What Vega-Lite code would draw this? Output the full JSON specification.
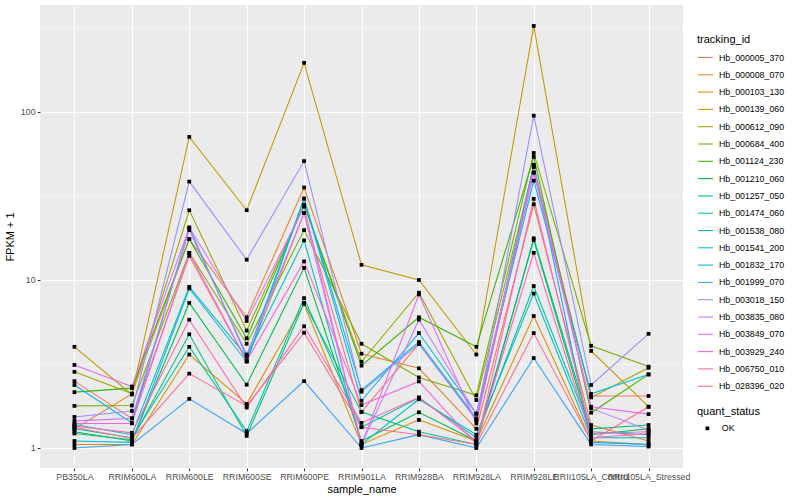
{
  "$schema": "https://vega.github.io/schema/vega-lite/v6.json",
  "autosize": "none",
  "width": 643,
  "height": 463,
  "padding": {"left": 40, "top": 5, "right": 117, "bottom": 32},
  "background": "white",
  "config": {
    "font": "Liberation Sans",
    "view": {"fill": "#EBEBEB", "stroke": null},
    "axis": {
      "domain": false,
      "labelFont": "Liberation Sans",
      "titleFont": "Liberation Sans",
      "labelFontSize": 8.8,
      "labelColor": "#4D4D4D",
      "tickColor": "#333333",
      "tickSize": 2.75,
      "labelPadding": 2.2,
      "titleFontSize": 11,
      "titleFontWeight": "normal",
      "titleColor": "black",
      "gridColor": "white",
      "gridOpacity": 1
    },
    "legend": {
      "titleFont": "Liberation Sans",
      "labelFont": "Liberation Sans",
      "titleFontSize": 11,
      "titleFontWeight": "normal",
      "titleColor": "black",
      "labelFontSize": 8.8,
      "labelColor": "black",
      "padding": 0
    }
  },
  "data": {"values": [
    {"tracking_id":"Hb_000005_370","sample_name":"PB350LA","fpkm":2.5,"quant_status":"OK"},
    {"tracking_id":"Hb_000005_370","sample_name":"RRIM600LA","fpkm":1.5,"quant_status":"OK"},
    {"tracking_id":"Hb_000005_370","sample_name":"RRIM600LE","fpkm":13.9,"quant_status":"OK"},
    {"tracking_id":"Hb_000005_370","sample_name":"RRIM600SE","fpkm":3.3,"quant_status":"OK"},
    {"tracking_id":"Hb_000005_370","sample_name":"RRIM600PE","fpkm":25,"quant_status":"OK"},
    {"tracking_id":"Hb_000005_370","sample_name":"RRIM901LA","fpkm":1.64,"quant_status":"OK"},
    {"tracking_id":"Hb_000005_370","sample_name":"RRIM928BA","fpkm":4.16,"quant_status":"OK"},
    {"tracking_id":"Hb_000005_370","sample_name":"RRIM928LA","fpkm":1.47,"quant_status":"OK"},
    {"tracking_id":"Hb_000005_370","sample_name":"RRIM928LE","fpkm":43.6,"quant_status":"OK"},
    {"tracking_id":"Hb_000005_370","sample_name":"RRII105LA_Control","fpkm":2.04,"quant_status":"OK"},
    {"tracking_id":"Hb_000005_370","sample_name":"RRII105LA_Stressed","fpkm":2.04,"quant_status":"OK"},

    {"tracking_id":"Hb_000008_070","sample_name":"PB350LA","fpkm":1.3,"quant_status":"OK"},
    {"tracking_id":"Hb_000008_070","sample_name":"RRIM600LA","fpkm":2.1,"quant_status":"OK"},
    {"tracking_id":"Hb_000008_070","sample_name":"RRIM600LE","fpkm":17.5,"quant_status":"OK"},
    {"tracking_id":"Hb_000008_070","sample_name":"RRIM600SE","fpkm":6.0,"quant_status":"OK"},
    {"tracking_id":"Hb_000008_070","sample_name":"RRIM600PE","fpkm":35.5,"quant_status":"OK"},
    {"tracking_id":"Hb_000008_070","sample_name":"RRIM901LA","fpkm":3.64,"quant_status":"OK"},
    {"tracking_id":"Hb_000008_070","sample_name":"RRIM928BA","fpkm":2.98,"quant_status":"OK"},
    {"tracking_id":"Hb_000008_070","sample_name":"RRIM928LA","fpkm":1.3,"quant_status":"OK"},
    {"tracking_id":"Hb_000008_070","sample_name":"RRIM928LE","fpkm":28.2,"quant_status":"OK"},
    {"tracking_id":"Hb_000008_070","sample_name":"RRII105LA_Control","fpkm":1.37,"quant_status":"OK"},
    {"tracking_id":"Hb_000008_070","sample_name":"RRII105LA_Stressed","fpkm":1.1,"quant_status":"OK"},

    {"tracking_id":"Hb_000103_130","sample_name":"PB350LA","fpkm":1.05,"quant_status":"OK"},
    {"tracking_id":"Hb_000103_130","sample_name":"RRIM600LA","fpkm":1.05,"quant_status":"OK"},
    {"tracking_id":"Hb_000103_130","sample_name":"RRIM600LE","fpkm":3.6,"quant_status":"OK"},
    {"tracking_id":"Hb_000103_130","sample_name":"RRIM600SE","fpkm":1.83,"quant_status":"OK"},
    {"tracking_id":"Hb_000103_130","sample_name":"RRIM600PE","fpkm":7.2,"quant_status":"OK"},
    {"tracking_id":"Hb_000103_130","sample_name":"RRIM901LA","fpkm":1.05,"quant_status":"OK"},
    {"tracking_id":"Hb_000103_130","sample_name":"RRIM928BA","fpkm":1.47,"quant_status":"OK"},
    {"tracking_id":"Hb_000103_130","sample_name":"RRIM928LA","fpkm":1.1,"quant_status":"OK"},
    {"tracking_id":"Hb_000103_130","sample_name":"RRIM928LE","fpkm":6.1,"quant_status":"OK"},
    {"tracking_id":"Hb_000103_130","sample_name":"RRII105LA_Control","fpkm":1.1,"quant_status":"OK"},
    {"tracking_id":"Hb_000103_130","sample_name":"RRII105LA_Stressed","fpkm":1.05,"quant_status":"OK"},

    {"tracking_id":"Hb_000139_060","sample_name":"PB350LA","fpkm":4.0,"quant_status":"OK"},
    {"tracking_id":"Hb_000139_060","sample_name":"RRIM600LA","fpkm":2.08,"quant_status":"OK"},
    {"tracking_id":"Hb_000139_060","sample_name":"RRIM600LE","fpkm":71,"quant_status":"OK"},
    {"tracking_id":"Hb_000139_060","sample_name":"RRIM600SE","fpkm":26,"quant_status":"OK"},
    {"tracking_id":"Hb_000139_060","sample_name":"RRIM600PE","fpkm":196,"quant_status":"OK"},
    {"tracking_id":"Hb_000139_060","sample_name":"RRIM901LA","fpkm":12.3,"quant_status":"OK"},
    {"tracking_id":"Hb_000139_060","sample_name":"RRIM928BA","fpkm":10,"quant_status":"OK"},
    {"tracking_id":"Hb_000139_060","sample_name":"RRIM928LA","fpkm":3.6,"quant_status":"OK"},
    {"tracking_id":"Hb_000139_060","sample_name":"RRIM928LE","fpkm":325,"quant_status":"OK"},
    {"tracking_id":"Hb_000139_060","sample_name":"RRII105LA_Control","fpkm":3.78,"quant_status":"OK"},
    {"tracking_id":"Hb_000139_060","sample_name":"RRII105LA_Stressed","fpkm":1.76,"quant_status":"OK"},

    {"tracking_id":"Hb_000612_090","sample_name":"PB350LA","fpkm":2.84,"quant_status":"OK"},
    {"tracking_id":"Hb_000612_090","sample_name":"RRIM600LA","fpkm":2.11,"quant_status":"OK"},
    {"tracking_id":"Hb_000612_090","sample_name":"RRIM600LE","fpkm":26,"quant_status":"OK"},
    {"tracking_id":"Hb_000612_090","sample_name":"RRIM600SE","fpkm":5.0,"quant_status":"OK"},
    {"tracking_id":"Hb_000612_090","sample_name":"RRIM600PE","fpkm":28,"quant_status":"OK"},
    {"tracking_id":"Hb_000612_090","sample_name":"RRIM901LA","fpkm":3.26,"quant_status":"OK"},
    {"tracking_id":"Hb_000612_090","sample_name":"RRIM928BA","fpkm":8.4,"quant_status":"OK"},
    {"tracking_id":"Hb_000612_090","sample_name":"RRIM928LA","fpkm":1.93,"quant_status":"OK"},
    {"tracking_id":"Hb_000612_090","sample_name":"RRIM928LE","fpkm":47.3,"quant_status":"OK"},
    {"tracking_id":"Hb_000612_090","sample_name":"RRII105LA_Control","fpkm":2.0,"quant_status":"OK"},
    {"tracking_id":"Hb_000612_090","sample_name":"RRII105LA_Stressed","fpkm":3.0,"quant_status":"OK"},

    {"tracking_id":"Hb_000684_400","sample_name":"PB350LA","fpkm":1.78,"quant_status":"OK"},
    {"tracking_id":"Hb_000684_400","sample_name":"RRIM600LA","fpkm":1.79,"quant_status":"OK"},
    {"tracking_id":"Hb_000684_400","sample_name":"RRIM600LE","fpkm":14.5,"quant_status":"OK"},
    {"tracking_id":"Hb_000684_400","sample_name":"RRIM600SE","fpkm":4.17,"quant_status":"OK"},
    {"tracking_id":"Hb_000684_400","sample_name":"RRIM600PE","fpkm":19.8,"quant_status":"OK"},
    {"tracking_id":"Hb_000684_400","sample_name":"RRIM901LA","fpkm":4.17,"quant_status":"OK"},
    {"tracking_id":"Hb_000684_400","sample_name":"RRIM928BA","fpkm":2.63,"quant_status":"OK"},
    {"tracking_id":"Hb_000684_400","sample_name":"RRIM928LA","fpkm":2.06,"quant_status":"OK"},
    {"tracking_id":"Hb_000684_400","sample_name":"RRIM928LE","fpkm":57,"quant_status":"OK"},
    {"tracking_id":"Hb_000684_400","sample_name":"RRII105LA_Control","fpkm":4.06,"quant_status":"OK"},
    {"tracking_id":"Hb_000684_400","sample_name":"RRII105LA_Stressed","fpkm":3.05,"quant_status":"OK"},

    {"tracking_id":"Hb_001124_230","sample_name":"PB350LA","fpkm":2.15,"quant_status":"OK"},
    {"tracking_id":"Hb_001124_230","sample_name":"RRIM600LA","fpkm":2.27,"quant_status":"OK"},
    {"tracking_id":"Hb_001124_230","sample_name":"RRIM600LE","fpkm":17.5,"quant_status":"OK"},
    {"tracking_id":"Hb_001124_230","sample_name":"RRIM600SE","fpkm":4.5,"quant_status":"OK"},
    {"tracking_id":"Hb_001124_230","sample_name":"RRIM600PE","fpkm":28,"quant_status":"OK"},
    {"tracking_id":"Hb_001124_230","sample_name":"RRIM901LA","fpkm":3.09,"quant_status":"OK"},
    {"tracking_id":"Hb_001124_230","sample_name":"RRIM928BA","fpkm":6.0,"quant_status":"OK"},
    {"tracking_id":"Hb_001124_230","sample_name":"RRIM928LA","fpkm":4.0,"quant_status":"OK"},
    {"tracking_id":"Hb_001124_230","sample_name":"RRIM928LE","fpkm":54,"quant_status":"OK"},
    {"tracking_id":"Hb_001124_230","sample_name":"RRII105LA_Control","fpkm":1.62,"quant_status":"OK"},
    {"tracking_id":"Hb_001124_230","sample_name":"RRII105LA_Stressed","fpkm":2.74,"quant_status":"OK"},

    {"tracking_id":"Hb_001210_060","sample_name":"PB350LA","fpkm":1.25,"quant_status":"OK"},
    {"tracking_id":"Hb_001210_060","sample_name":"RRIM600LA","fpkm":1.1,"quant_status":"OK"},
    {"tracking_id":"Hb_001210_060","sample_name":"RRIM600LE","fpkm":7.3,"quant_status":"OK"},
    {"tracking_id":"Hb_001210_060","sample_name":"RRIM600SE","fpkm":2.38,"quant_status":"OK"},
    {"tracking_id":"Hb_001210_060","sample_name":"RRIM600PE","fpkm":11.8,"quant_status":"OK"},
    {"tracking_id":"Hb_001210_060","sample_name":"RRIM901LA","fpkm":1.1,"quant_status":"OK"},
    {"tracking_id":"Hb_001210_060","sample_name":"RRIM928BA","fpkm":1.63,"quant_status":"OK"},
    {"tracking_id":"Hb_001210_060","sample_name":"RRIM928LA","fpkm":1.1,"quant_status":"OK"},
    {"tracking_id":"Hb_001210_060","sample_name":"RRIM928LE","fpkm":17.3,"quant_status":"OK"},
    {"tracking_id":"Hb_001210_060","sample_name":"RRII105LA_Control","fpkm":1.2,"quant_status":"OK"},
    {"tracking_id":"Hb_001210_060","sample_name":"RRII105LA_Stressed","fpkm":1.3,"quant_status":"OK"},

    {"tracking_id":"Hb_001257_050","sample_name":"PB350LA","fpkm":1.22,"quant_status":"OK"},
    {"tracking_id":"Hb_001257_050","sample_name":"RRIM600LA","fpkm":1.12,"quant_status":"OK"},
    {"tracking_id":"Hb_001257_050","sample_name":"RRIM600LE","fpkm":4.75,"quant_status":"OK"},
    {"tracking_id":"Hb_001257_050","sample_name":"RRIM600SE","fpkm":1.18,"quant_status":"OK"},
    {"tracking_id":"Hb_001257_050","sample_name":"RRIM600PE","fpkm":7.3,"quant_status":"OK"},
    {"tracking_id":"Hb_001257_050","sample_name":"RRIM901LA","fpkm":1.64,"quant_status":"OK"},
    {"tracking_id":"Hb_001257_050","sample_name":"RRIM928BA","fpkm":1.25,"quant_status":"OK"},
    {"tracking_id":"Hb_001257_050","sample_name":"RRIM928LA","fpkm":1.05,"quant_status":"OK"},
    {"tracking_id":"Hb_001257_050","sample_name":"RRIM928LE","fpkm":17.7,"quant_status":"OK"},
    {"tracking_id":"Hb_001257_050","sample_name":"RRII105LA_Control","fpkm":1.3,"quant_status":"OK"},
    {"tracking_id":"Hb_001257_050","sample_name":"RRII105LA_Stressed","fpkm":1.37,"quant_status":"OK"},

    {"tracking_id":"Hb_001474_060","sample_name":"PB350LA","fpkm":1.3,"quant_status":"OK"},
    {"tracking_id":"Hb_001474_060","sample_name":"RRIM600LA","fpkm":1.15,"quant_status":"OK"},
    {"tracking_id":"Hb_001474_060","sample_name":"RRIM600LE","fpkm":4.0,"quant_status":"OK"},
    {"tracking_id":"Hb_001474_060","sample_name":"RRIM600SE","fpkm":1.26,"quant_status":"OK"},
    {"tracking_id":"Hb_001474_060","sample_name":"RRIM600PE","fpkm":7.8,"quant_status":"OK"},
    {"tracking_id":"Hb_001474_060","sample_name":"RRIM901LA","fpkm":1.33,"quant_status":"OK"},
    {"tracking_id":"Hb_001474_060","sample_name":"RRIM928BA","fpkm":1.99,"quant_status":"OK"},
    {"tracking_id":"Hb_001474_060","sample_name":"RRIM928LA","fpkm":1.15,"quant_status":"OK"},
    {"tracking_id":"Hb_001474_060","sample_name":"RRIM928LE","fpkm":9.2,"quant_status":"OK"},
    {"tracking_id":"Hb_001474_060","sample_name":"RRII105LA_Control","fpkm":1.25,"quant_status":"OK"},
    {"tracking_id":"Hb_001474_060","sample_name":"RRII105LA_Stressed","fpkm":1.2,"quant_status":"OK"},

    {"tracking_id":"Hb_001538_080","sample_name":"PB350LA","fpkm":1.38,"quant_status":"OK"},
    {"tracking_id":"Hb_001538_080","sample_name":"RRIM600LA","fpkm":1.2,"quant_status":"OK"},
    {"tracking_id":"Hb_001538_080","sample_name":"RRIM600LE","fpkm":9.1,"quant_status":"OK"},
    {"tracking_id":"Hb_001538_080","sample_name":"RRIM600SE","fpkm":3.5,"quant_status":"OK"},
    {"tracking_id":"Hb_001538_080","sample_name":"RRIM600PE","fpkm":17.2,"quant_status":"OK"},
    {"tracking_id":"Hb_001538_080","sample_name":"RRIM901LA","fpkm":1.05,"quant_status":"OK"},
    {"tracking_id":"Hb_001538_080","sample_name":"RRIM928BA","fpkm":1.95,"quant_status":"OK"},
    {"tracking_id":"Hb_001538_080","sample_name":"RRIM928LA","fpkm":1.2,"quant_status":"OK"},
    {"tracking_id":"Hb_001538_080","sample_name":"RRIM928LE","fpkm":8.3,"quant_status":"OK"},
    {"tracking_id":"Hb_001538_080","sample_name":"RRII105LA_Control","fpkm":1.15,"quant_status":"OK"},
    {"tracking_id":"Hb_001538_080","sample_name":"RRII105LA_Stressed","fpkm":1.15,"quant_status":"OK"},

    {"tracking_id":"Hb_001541_200","sample_name":"PB350LA","fpkm":1.1,"quant_status":"OK"},
    {"tracking_id":"Hb_001541_200","sample_name":"RRIM600LA","fpkm":1.08,"quant_status":"OK"},
    {"tracking_id":"Hb_001541_200","sample_name":"RRIM600LE","fpkm":8.9,"quant_status":"OK"},
    {"tracking_id":"Hb_001541_200","sample_name":"RRIM600SE","fpkm":3.26,"quant_status":"OK"},
    {"tracking_id":"Hb_001541_200","sample_name":"RRIM600PE","fpkm":30.5,"quant_status":"OK"},
    {"tracking_id":"Hb_001541_200","sample_name":"RRIM901LA","fpkm":1.91,"quant_status":"OK"},
    {"tracking_id":"Hb_001541_200","sample_name":"RRIM928BA","fpkm":4.83,"quant_status":"OK"},
    {"tracking_id":"Hb_001541_200","sample_name":"RRIM928LA","fpkm":1.6,"quant_status":"OK"},
    {"tracking_id":"Hb_001541_200","sample_name":"RRIM928LE","fpkm":39,"quant_status":"OK"},
    {"tracking_id":"Hb_001541_200","sample_name":"RRII105LA_Control","fpkm":2.1,"quant_status":"OK"},
    {"tracking_id":"Hb_001541_200","sample_name":"RRII105LA_Stressed","fpkm":2.74,"quant_status":"OK"},

    {"tracking_id":"Hb_001832_170","sample_name":"PB350LA","fpkm":2.37,"quant_status":"OK"},
    {"tracking_id":"Hb_001832_170","sample_name":"RRIM600LA","fpkm":1.41,"quant_status":"OK"},
    {"tracking_id":"Hb_001832_170","sample_name":"RRIM600LE","fpkm":20.5,"quant_status":"OK"},
    {"tracking_id":"Hb_001832_170","sample_name":"RRIM600SE","fpkm":3.5,"quant_status":"OK"},
    {"tracking_id":"Hb_001832_170","sample_name":"RRIM600PE","fpkm":30.5,"quant_status":"OK"},
    {"tracking_id":"Hb_001832_170","sample_name":"RRIM901LA","fpkm":2.21,"quant_status":"OK"},
    {"tracking_id":"Hb_001832_170","sample_name":"RRIM928BA","fpkm":4.27,"quant_status":"OK"},
    {"tracking_id":"Hb_001832_170","sample_name":"RRIM928LA","fpkm":1.5,"quant_status":"OK"},
    {"tracking_id":"Hb_001832_170","sample_name":"RRIM928LE","fpkm":48.5,"quant_status":"OK"},
    {"tracking_id":"Hb_001832_170","sample_name":"RRII105LA_Control","fpkm":1.08,"quant_status":"OK"},
    {"tracking_id":"Hb_001832_170","sample_name":"RRII105LA_Stressed","fpkm":1.05,"quant_status":"OK"},

    {"tracking_id":"Hb_001999_070","sample_name":"PB350LA","fpkm":1.0,"quant_status":"OK"},
    {"tracking_id":"Hb_001999_070","sample_name":"RRIM600LA","fpkm":1.05,"quant_status":"OK"},
    {"tracking_id":"Hb_001999_070","sample_name":"RRIM600LE","fpkm":1.96,"quant_status":"OK"},
    {"tracking_id":"Hb_001999_070","sample_name":"RRIM600SE","fpkm":1.22,"quant_status":"OK"},
    {"tracking_id":"Hb_001999_070","sample_name":"RRIM600PE","fpkm":2.5,"quant_status":"OK"},
    {"tracking_id":"Hb_001999_070","sample_name":"RRIM901LA","fpkm":1.0,"quant_status":"OK"},
    {"tracking_id":"Hb_001999_070","sample_name":"RRIM928BA","fpkm":1.2,"quant_status":"OK"},
    {"tracking_id":"Hb_001999_070","sample_name":"RRIM928LA","fpkm":1.0,"quant_status":"OK"},
    {"tracking_id":"Hb_001999_070","sample_name":"RRIM928LE","fpkm":3.43,"quant_status":"OK"},
    {"tracking_id":"Hb_001999_070","sample_name":"RRII105LA_Control","fpkm":1.05,"quant_status":"OK"},
    {"tracking_id":"Hb_001999_070","sample_name":"RRII105LA_Stressed","fpkm":1.02,"quant_status":"OK"},

    {"tracking_id":"Hb_003018_150","sample_name":"PB350LA","fpkm":1.53,"quant_status":"OK"},
    {"tracking_id":"Hb_003018_150","sample_name":"RRIM600LA","fpkm":1.66,"quant_status":"OK"},
    {"tracking_id":"Hb_003018_150","sample_name":"RRIM600LE","fpkm":38.5,"quant_status":"OK"},
    {"tracking_id":"Hb_003018_150","sample_name":"RRIM600SE","fpkm":13.2,"quant_status":"OK"},
    {"tracking_id":"Hb_003018_150","sample_name":"RRIM600PE","fpkm":51,"quant_status":"OK"},
    {"tracking_id":"Hb_003018_150","sample_name":"RRIM901LA","fpkm":2.16,"quant_status":"OK"},
    {"tracking_id":"Hb_003018_150","sample_name":"RRIM928BA","fpkm":4.16,"quant_status":"OK"},
    {"tracking_id":"Hb_003018_150","sample_name":"RRIM928LA","fpkm":1.47,"quant_status":"OK"},
    {"tracking_id":"Hb_003018_150","sample_name":"RRIM928LE","fpkm":95,"quant_status":"OK"},
    {"tracking_id":"Hb_003018_150","sample_name":"RRII105LA_Control","fpkm":2.37,"quant_status":"OK"},
    {"tracking_id":"Hb_003018_150","sample_name":"RRII105LA_Stressed","fpkm":4.78,"quant_status":"OK"},

    {"tracking_id":"Hb_003835_080","sample_name":"PB350LA","fpkm":1.45,"quant_status":"OK"},
    {"tracking_id":"Hb_003835_080","sample_name":"RRIM600LA","fpkm":1.5,"quant_status":"OK"},
    {"tracking_id":"Hb_003835_080","sample_name":"RRIM600LE","fpkm":19.8,"quant_status":"OK"},
    {"tracking_id":"Hb_003835_080","sample_name":"RRIM600SE","fpkm":3.6,"quant_status":"OK"},
    {"tracking_id":"Hb_003835_080","sample_name":"RRIM600PE","fpkm":25,"quant_status":"OK"},
    {"tracking_id":"Hb_003835_080","sample_name":"RRIM901LA","fpkm":1.05,"quant_status":"OK"},
    {"tracking_id":"Hb_003835_080","sample_name":"RRIM928BA","fpkm":5.8,"quant_status":"OK"},
    {"tracking_id":"Hb_003835_080","sample_name":"RRIM928LA","fpkm":1.6,"quant_status":"OK"},
    {"tracking_id":"Hb_003835_080","sample_name":"RRIM928LE","fpkm":43.6,"quant_status":"OK"},
    {"tracking_id":"Hb_003835_080","sample_name":"RRII105LA_Control","fpkm":1.72,"quant_status":"OK"},
    {"tracking_id":"Hb_003835_080","sample_name":"RRII105LA_Stressed","fpkm":1.28,"quant_status":"OK"},

    {"tracking_id":"Hb_003849_070","sample_name":"PB350LA","fpkm":3.12,"quant_status":"OK"},
    {"tracking_id":"Hb_003849_070","sample_name":"RRIM600LA","fpkm":2.32,"quant_status":"OK"},
    {"tracking_id":"Hb_003849_070","sample_name":"RRIM600LE","fpkm":20.5,"quant_status":"OK"},
    {"tracking_id":"Hb_003849_070","sample_name":"RRIM600SE","fpkm":5.7,"quant_status":"OK"},
    {"tracking_id":"Hb_003849_070","sample_name":"RRIM600PE","fpkm":27.3,"quant_status":"OK"},
    {"tracking_id":"Hb_003849_070","sample_name":"RRIM901LA","fpkm":1.05,"quant_status":"OK"},
    {"tracking_id":"Hb_003849_070","sample_name":"RRIM928BA","fpkm":8.2,"quant_status":"OK"},
    {"tracking_id":"Hb_003849_070","sample_name":"RRIM928LA","fpkm":1.4,"quant_status":"OK"},
    {"tracking_id":"Hb_003849_070","sample_name":"RRIM928LE","fpkm":47,"quant_status":"OK"},
    {"tracking_id":"Hb_003849_070","sample_name":"RRII105LA_Control","fpkm":1.76,"quant_status":"OK"},
    {"tracking_id":"Hb_003849_070","sample_name":"RRII105LA_Stressed","fpkm":1.59,"quant_status":"OK"},

    {"tracking_id":"Hb_003929_240","sample_name":"PB350LA","fpkm":1.4,"quant_status":"OK"},
    {"tracking_id":"Hb_003929_240","sample_name":"RRIM600LA","fpkm":1.4,"quant_status":"OK"},
    {"tracking_id":"Hb_003929_240","sample_name":"RRIM600LE","fpkm":14.5,"quant_status":"OK"},
    {"tracking_id":"Hb_003929_240","sample_name":"RRIM600SE","fpkm":3.3,"quant_status":"OK"},
    {"tracking_id":"Hb_003929_240","sample_name":"RRIM600PE","fpkm":12.9,"quant_status":"OK"},
    {"tracking_id":"Hb_003929_240","sample_name":"RRIM901LA","fpkm":1.8,"quant_status":"OK"},
    {"tracking_id":"Hb_003929_240","sample_name":"RRIM928BA","fpkm":2.49,"quant_status":"OK"},
    {"tracking_id":"Hb_003929_240","sample_name":"RRIM928LA","fpkm":1.05,"quant_status":"OK"},
    {"tracking_id":"Hb_003929_240","sample_name":"RRIM928LE","fpkm":30.4,"quant_status":"OK"},
    {"tracking_id":"Hb_003929_240","sample_name":"RRII105LA_Control","fpkm":1.22,"quant_status":"OK"},
    {"tracking_id":"Hb_003929_240","sample_name":"RRII105LA_Stressed","fpkm":1.25,"quant_status":"OK"},

    {"tracking_id":"Hb_006750_010","sample_name":"PB350LA","fpkm":1.35,"quant_status":"OK"},
    {"tracking_id":"Hb_006750_010","sample_name":"RRIM600LA","fpkm":1.23,"quant_status":"OK"},
    {"tracking_id":"Hb_006750_010","sample_name":"RRIM600LE","fpkm":5.8,"quant_status":"OK"},
    {"tracking_id":"Hb_006750_010","sample_name":"RRIM600SE","fpkm":1.74,"quant_status":"OK"},
    {"tracking_id":"Hb_006750_010","sample_name":"RRIM600PE","fpkm":5.3,"quant_status":"OK"},
    {"tracking_id":"Hb_006750_010","sample_name":"RRIM901LA","fpkm":1.41,"quant_status":"OK"},
    {"tracking_id":"Hb_006750_010","sample_name":"RRIM928BA","fpkm":2.0,"quant_status":"OK"},
    {"tracking_id":"Hb_006750_010","sample_name":"RRIM928LA","fpkm":1.1,"quant_status":"OK"},
    {"tracking_id":"Hb_006750_010","sample_name":"RRIM928LE","fpkm":14.5,"quant_status":"OK"},
    {"tracking_id":"Hb_006750_010","sample_name":"RRII105LA_Control","fpkm":1.15,"quant_status":"OK"},
    {"tracking_id":"Hb_006750_010","sample_name":"RRII105LA_Stressed","fpkm":1.22,"quant_status":"OK"},

    {"tracking_id":"Hb_028396_020","sample_name":"PB350LA","fpkm":1.33,"quant_status":"OK"},
    {"tracking_id":"Hb_028396_020","sample_name":"RRIM600LA","fpkm":1.14,"quant_status":"OK"},
    {"tracking_id":"Hb_028396_020","sample_name":"RRIM600LE","fpkm":2.77,"quant_status":"OK"},
    {"tracking_id":"Hb_028396_020","sample_name":"RRIM600SE","fpkm":1.78,"quant_status":"OK"},
    {"tracking_id":"Hb_028396_020","sample_name":"RRIM600PE","fpkm":4.85,"quant_status":"OK"},
    {"tracking_id":"Hb_028396_020","sample_name":"RRIM901LA","fpkm":1.33,"quant_status":"OK"},
    {"tracking_id":"Hb_028396_020","sample_name":"RRIM928BA","fpkm":1.2,"quant_status":"OK"},
    {"tracking_id":"Hb_028396_020","sample_name":"RRIM928LA","fpkm":1.05,"quant_status":"OK"},
    {"tracking_id":"Hb_028396_020","sample_name":"RRIM928LE","fpkm":4.83,"quant_status":"OK"},
    {"tracking_id":"Hb_028396_020","sample_name":"RRII105LA_Control","fpkm":1.1,"quant_status":"OK"},
    {"tracking_id":"Hb_028396_020","sample_name":"RRII105LA_Stressed","fpkm":1.76,"quant_status":"OK"}
  ]},
  "encoding": {
    "x": {
      "field": "sample_name",
      "type": "nominal",
      "sort": ["PB350LA","RRIM600LA","RRIM600LE","RRIM600SE","RRIM600PE","RRIM901LA","RRIM928BA","RRIM928LA","RRIM928LE","RRII105LA_Control","RRII105LA_Stressed"],
      "scale": {"type": "point", "padding": 0.6},
      "axis": {
        "title": "sample_name",
        "labelAngle": 0,
        "labelOverlap": false,
        "labelBound": false,
        "grid": true,
        "gridWidth": 1.07,
        "titlePadding": 2
      }
    },
    "y": {
      "field": "fpkm",
      "type": "quantitative",
      "scale": {"type": "log", "domain": [0.76, 433], "nice": false, "zero": false},
      "axis": {
        "title": "FPKM + 1",
        "values": [1, 3.1623, 10, 31.623, 100, 316.23],
        "format": "d",
        "labelExpr": "(datum.value == 1 || datum.value == 10 || datum.value == 100) ? datum.label : ''",
        "labelOverlap": false,
        "grid": true,
        "gridWidth": {"condition": {"test": "datum.value == 1 || datum.value == 10 || datum.value == 100", "value": 1.07}, "value": 0.53},
        "tickSize": {"condition": {"test": "datum.value == 1 || datum.value == 10 || datum.value == 100", "value": 2.75}, "value": 0},
        "titlePadding": 5
      }
    }
  },
  "layer": [
    {
      "mark": {"type": "line", "strokeWidth": 1.07},
      "encoding": {
        "color": {
          "field": "tracking_id",
          "type": "nominal",
          "scale": {
            "domain": ["Hb_000005_370","Hb_000008_070","Hb_000103_130","Hb_000139_060","Hb_000612_090","Hb_000684_400","Hb_001124_230","Hb_001210_060","Hb_001257_050","Hb_001474_060","Hb_001538_080","Hb_001541_200","Hb_001832_170","Hb_001999_070","Hb_003018_150","Hb_003835_080","Hb_003849_070","Hb_003929_240","Hb_006750_010","Hb_028396_020"],
            "range": ["#F8766D","#EA8331","#D89000","#C09B00","#A3A500","#7CAE00","#39B600","#00BB4E","#00BF7D","#00C1A3","#00BFC4","#00BAE0","#00B0F6","#35A2FF","#9590FF","#C77CFF","#E76BF3","#FA62DB","#FF62BC","#FF6C91"]
          },
          "legend": {
            "title": "tracking_id",
            "orient": "none",
            "legendX": 657,
            "legendY": 29,
            "symbolType": "stroke",
            "symbolSize": 225,
            "symbolStrokeWidth": 1.07,
            "rowPadding": 3.3,
            "titlePadding": 4,
            "labelOffset": 5
          }
        }
      }
    },
    {
      "mark": {"type": "point", "filled": true, "color": "black", "opacity": 1, "size": 14},
      "encoding": {
        "shape": {
          "field": "quant_status",
          "type": "nominal",
          "scale": {"range": ["square"]},
          "legend": {
            "title": "quant_status",
            "orient": "none",
            "legendX": 657,
            "legendY": 401,
            "symbolFillColor": "black",
            "symbolStrokeColor": "black",
            "symbolSize": 14,
            "symbolOffset": 6,
            "titlePadding": 7,
            "labelOffset": 10
          }
        }
      }
    }
  ]
}
